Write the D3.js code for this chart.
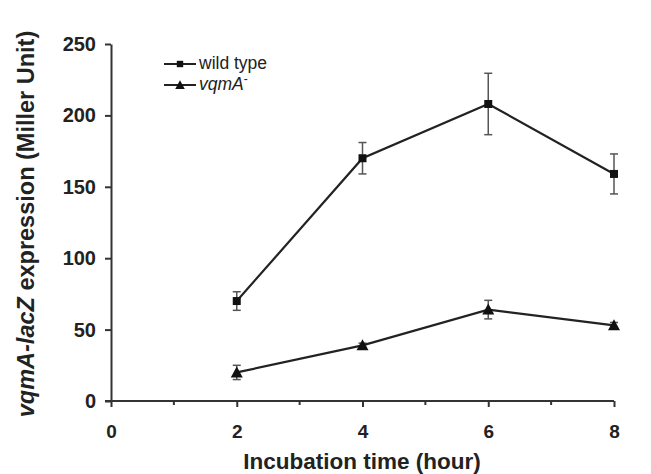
<!DOCTYPE html>
<html><head><meta charset="utf-8">
<script src="https://cdn.jsdelivr.net/npm/d3@7"></script>
<style>body{margin:0;background:#fff;} svg{display:block;}</style>
</head><body>
<svg id="c" width="651" height="474"></svg>
<script>
const hours = [2, 4, 6, 8];
const wildType = [70, 170, 208, 159];
const wildTypeErr = [6.5, 11, 21.5, 14];
const vqmA = [20, 39, 64, 53];
const vqmAErr = [5, 1.5, 6.5, 2];
const xTicks = [0, 2, 4, 6, 8];
const xMinorTicks = [1, 3, 5, 7];
const yTicks = [0, 50, 100, 150, 200, 250];

const svg = d3.select("#c");
const x = d3.scaleLinear().domain([0, 8]).range([111, 614]);
const y = d3.scaleLinear().domain([0, 250]).range([401, 44]);
const font = "Liberation Sans, Arial, sans-serif";

// axes
const xAxis = svg.append("g").attr("transform", `translate(0,${y(0)})`)
  .call(d3.axisBottom(x).tickValues(xTicks).tickFormat(d3.format("d")).tickSizeInner(6).tickSizeOuter(0).tickPadding(18));
xAxis.select(".domain").attr("stroke", "#333").attr("stroke-width", 2).attr("d", `M${x(0)-6},0H${x(8)}`);
xAxis.selectAll(".tick line").attr("stroke", "#333").attr("stroke-width", 2);
xAxis.selectAll("text").attr("font-family", font).attr("font-weight", "bold").attr("font-size", 19).attr("fill", "#222");
xAxis.append("g").selectAll("line").data(xMinorTicks).join("line")
  .attr("x1", d => x(d)).attr("x2", d => x(d)).attr("y1", 0).attr("y2", 4)
  .attr("stroke", "#333").attr("stroke-width", 2);

const yAxis = svg.append("g").attr("transform", `translate(${x(0)},0)`)
  .call(d3.axisLeft(y).tickValues(yTicks).tickSizeInner(6).tickSizeOuter(0).tickPadding(9));
yAxis.select(".domain").attr("stroke", "#333").attr("stroke-width", 2);
yAxis.selectAll(".tick line").attr("stroke", "#333").attr("stroke-width", 2);
yAxis.selectAll("text").attr("font-family", font).attr("font-weight", "bold").attr("font-size", 20).attr("fill", "#222");

// axis titles
svg.append("text").attr("x", 362).attr("y", 469).attr("text-anchor", "middle")
  .attr("font-family", font).attr("font-weight", "bold").attr("font-size", 22.5).attr("fill", "#222")
  .text("Incubation time (hour)");
const yt = svg.append("text").attr("transform", `translate(34,224) rotate(-90)`).attr("text-anchor", "middle")
  .attr("font-family", font).attr("font-weight", "bold").attr("font-size", 23.5).attr("fill", "#222");
yt.append("tspan").attr("font-style", "italic").text("vqmA-lacZ");
yt.append("tspan").text(" expression (Miller Unit)");

const line = d3.line().x(d => x(d[0])).y(d => y(d[1]));
function drawSeries(vals, errs, marker) {
  const pts = hours.map((h, i) => [h, vals[i], errs[i]]);
  const g = svg.append("g");
  pts.forEach(p => {
    const eg = g.append("g").attr("stroke", "#555").attr("stroke-width", 1.5);
    eg.append("line").attr("x1", x(p[0])).attr("x2", x(p[0])).attr("y1", y(p[1]-p[2])).attr("y2", y(p[1]+p[2]));
    [p[1]-p[2], p[1]+p[2]].forEach(v => eg.append("line").attr("x1", x(p[0])-4).attr("x2", x(p[0])+4).attr("y1", y(v)).attr("y2", y(v)));
  });
  g.append("path").datum(pts).attr("d", line).attr("fill", "none").attr("stroke", "#222").attr("stroke-width", 2.2);
  g.selectAll(".m").data(pts).join("path")
    .attr("transform", d => `translate(${x(d[0])},${y(d[1])})`)
    .attr("d", marker).attr("fill", "#111");
}
const sq = d3.symbol(d3.symbolSquare, 64)();
const tri = "M0,-6L6,5L-6,5Z";
drawSeries(wildType, wildTypeErr, sq);
drawSeries(vqmA, vqmAErr, tri);

// legend
const lg = svg.append("g");
[[sq, 64, "wild type"], [tri, 85, "vqmA"]].forEach(([m, ly, t], i) => {
  lg.append("line").attr("x1", 164).attr("x2", 196).attr("y1", ly).attr("y2", ly).attr("stroke", "#222").attr("stroke-width", 2);
  lg.append("path").attr("d", m).attr("transform", `translate(180,${ly}) scale(0.8)`).attr("fill", "#111");
  const tx = lg.append("text").attr("x", 199).attr("y", ly + 5).attr("font-family", font).attr("font-size", 17.5).attr("fill", "#222");
  if (i === 0) tx.text(t);
  else { tx.append("tspan").attr("font-style", "italic").text(t); tx.append("tspan").attr("dy", -7).attr("font-size", 12).text("-"); }
});
</script>
</body></html>
